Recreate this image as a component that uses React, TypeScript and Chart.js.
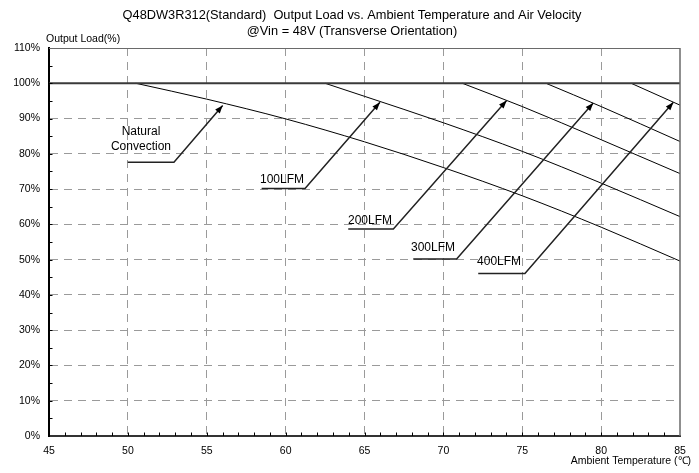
import React, { useEffect, useRef } from 'react';
import { Chart, registerables } from 'chart.js';

Chart.register(...registerables);

const FONT = '"Liberation Sans", Arial, Helvetica, sans-serif';

// Axis ranges / ticks
const xRange = [45, 85];
const yRange = [0, 110];
const xStep = 5;
const yStep = 10;

const titleLines = [
  'Q48DW3R312(Standard)  Output Load vs. Ambient Temperature and Air Velocity',
  '@Vin = 48V (Transverse Orientation)',
];
const xAxisTitle = 'Ambient Temperature (\u2103)';
const yAxisTitle = 'Output Load(%)';

// Derating curves (Ambient temperature °C -> output load %)
const limitT = [45, 85];
const limitLoad = [100, 100];
const naturalT = [50.5, 55, 60, 65, 70, 75, 80, 85];
const naturalLoad = [100, 95.5, 89.9, 83.4, 76.1, 68.1, 59.2, 49.6];
const lfm100T = [62.5, 65, 70, 75, 80, 85];
const lfm100Load = [100, 96.3, 88.8, 80.7, 71.7, 62.2];
const lfm200T = [71.2, 75, 80, 85];
const lfm200Load = [100, 93.4, 84.0, 74.4];
const lfm300T = [76.5, 80, 85];
const lfm300Load = [100, 93.4, 83.5];
const lfm400T = [81.9, 85];
const lfm400Load = [100, 93.8];

// Annotation callouts (data units)
const calloutText = [['Natural', 'Convection'], ['100LFM'], ['200LFM'], ['300LFM'], ['400LFM']];
const calloutTextX = [50.83, 59.77, 65.35, 69.34, 73.53];
const calloutTextY = [84.2, 72.7, 61.1, 53.5, 49.4];
const underlineStartX = [49.99, 58.48, 63.97, 68.09, 72.21];
const underlineEndX = [52.92, 61.23, 66.83, 70.84, 75.17];
const underlineY = [77.6, 70.2, 58.7, 50.2, 46.1];
const arrowTipX = [56.01, 65.98, 74.01, 79.5, 84.58];
const arrowTipY = [93.7, 94.6, 95.1, 94.4, 94.6];

const toPoints = (xs: number[], ys: number[]) => xs.map((v, i) => ({ x: v, y: ys[i] }));

const decorPlugin = {
  id: 'decor',
  afterDraw(chart: any) {
    const { ctx, chartArea: a } = chart;
    const xs = chart.scales.x;
    const ys = chart.scales.y;
    ctx.save();

    // title
    ctx.fillStyle = '#000';
    ctx.font = `12.8px ${FONT}`;
    ctx.textAlign = 'center';
    ctx.textBaseline = 'middle';
    titleLines.forEach((ln, i) => ctx.fillText(ln, 352, 15.5 + i * 15.5));

    // top and right frame
    ctx.strokeStyle = '#6a6a6a';
    ctx.lineWidth = 1;
    ctx.beginPath();
    ctx.moveTo(a.left, a.top + 0.5);
    ctx.lineTo(a.right, a.top + 0.5);
    ctx.stroke();
    ctx.lineWidth = 1.5;
    ctx.beginPath();
    ctx.moveTo(a.right, a.top);
    ctx.lineTo(a.right, a.bottom);
    ctx.stroke();

    // minor ticks (inside)
    ctx.strokeStyle = '#000';
    ctx.lineWidth = 1;
    ctx.beginPath();
    for (let t = xRange[0] + 1; t < xRange[1]; t += 1) {
      const px = Math.round(xs.getPixelForValue(t)) + 0.5;
      ctx.moveTo(px, a.bottom);
      ctx.lineTo(px, a.bottom - 3.5);
    }
    for (let v = yRange[0] + 5; v < yRange[1]; v += 5) {
      const py = Math.round(ys.getPixelForValue(v)) + 0.5;
      ctx.moveTo(a.left, py);
      ctx.lineTo(a.left + 3.5, py);
    }
    ctx.stroke();

    // callouts
    ctx.fillStyle = '#000';
    ctx.font = `12px ${FONT}`;
    ctx.textAlign = 'center';
    ctx.textBaseline = 'middle';
    for (let i = 0; i < calloutText.length; i++) {
      const lines = calloutText[i];
      const cx = xs.getPixelForValue(calloutTextX[i]);
      const cy = ys.getPixelForValue(calloutTextY[i]);
      lines.forEach((ln, j) => {
        ctx.fillText(ln, cx, cy + (j - (lines.length - 1) / 2) * 14.6);
      });
      const ux1 = xs.getPixelForValue(underlineStartX[i]);
      const ux2 = xs.getPixelForValue(underlineEndX[i]);
      const uy = ys.getPixelForValue(underlineY[i]);
      const tx = xs.getPixelForValue(arrowTipX[i]);
      const ty = ys.getPixelForValue(arrowTipY[i]);
      ctx.strokeStyle = '#222';
      ctx.lineWidth = 1.5;
      ctx.beginPath();
      ctx.moveTo(ux1, uy);
      ctx.lineTo(ux2, uy);
      ctx.lineTo(tx, ty);
      ctx.stroke();
      // arrow head
      const ang = Math.atan2(ty - uy, tx - ux2);
      const L = 8;
      const W = 3;
      const bx = tx - L * Math.cos(ang);
      const by = ty - L * Math.sin(ang);
      ctx.beginPath();
      ctx.moveTo(tx, ty);
      ctx.lineTo(bx + W * Math.sin(ang), by - W * Math.cos(ang));
      ctx.lineTo(bx - W * Math.sin(ang), by + W * Math.cos(ang));
      ctx.closePath();
      ctx.fillStyle = '#000';
      ctx.fill();
    }

    // axis titles
    ctx.font = `10.5px ${FONT}`;
    ctx.fillStyle = '#000';
    ctx.textBaseline = 'middle';
    ctx.textAlign = 'left';
    ctx.fillText(yAxisTitle, a.left - 3, a.top - 9);
    ctx.textAlign = 'right';
    ctx.fillText(xAxisTitle, a.right + 11, a.bottom + 25);

    ctx.restore();
  },
};

export default function App() {
  const ref = useRef<HTMLCanvasElement | null>(null);

  useEffect(() => {
    if (!ref.current) return;
    const curve = (label: string, xs: number[], ys: number[], color = '#000', width = 1) => ({
      label,
      data: toPoints(xs, ys),
      showLine: true,
      borderColor: color,
      backgroundColor: color,
      borderWidth: width,
      pointRadius: 0,
      cubicInterpolationMode: 'monotone' as const,
    });
    const chart = new Chart(ref.current, {
      type: 'scatter',
      data: {
        datasets: [
          curve('Limit', limitT, limitLoad, '#3a3a3a', 1.8),
          curve('Natural Convection', naturalT, naturalLoad),
          curve('100LFM', lfm100T, lfm100Load),
          curve('200LFM', lfm200T, lfm200Load),
          curve('300LFM', lfm300T, lfm300Load),
          curve('400LFM', lfm400T, lfm400Load),
        ],
      },
      options: {
        responsive: false,
        animation: false,
        events: [],
        layout: { padding: { left: 0, right: 19, top: 48, bottom: 0 } },
        plugins: {
          legend: { display: false },
          tooltip: { enabled: false },
          title: { display: false },
        },
        scales: {
          x: {
            type: 'linear',
            min: xRange[0],
            max: xRange[1],
            afterFit: (s: any) => {
              s.height = 37;
            },
            ticks: {
              stepSize: xStep,
              padding: 9,
              color: '#000',
              font: { family: FONT, size: 10.5 },
              maxRotation: 0,
              autoSkip: false,
            },
            grid: {
              drawTicks: false,
              lineWidth: 1,
              color: (c: any) =>
                c.tick && (c.tick.value === xRange[0] || c.tick.value === xRange[1])
                  ? 'rgba(0,0,0,0)'
                  : '#9a9a9a',
            },
            border: { color: '#333', width: 2, dash: [8, 6] },
          },
          y: {
            type: 'linear',
            min: yRange[0],
            max: yRange[1],
            afterFit: (s: any) => {
              s.width = 49;
            },
            ticks: {
              stepSize: yStep,
              padding: 9,
              color: '#000',
              font: { family: FONT, size: 10.5 },
              callback: (v: any) => `${v}%`,
            },
            grid: {
              drawTicks: false,
              lineWidth: 1,
              color: (c: any) =>
                c.tick && (c.tick.value === yRange[0] || c.tick.value === yRange[1])
                  ? 'rgba(0,0,0,0)'
                  : '#9a9a9a',
            },
            border: { color: '#000', width: 2, dash: [8, 6] },
          },
        },
      },
      plugins: [decorPlugin],
    });
    return () => chart.destroy();
  }, []);

  return (
    <div style={{ position: 'fixed', left: 0, top: 0, width: 699, height: 473, background: '#fff' }}>
      <canvas ref={ref} width={699} height={473} style={{ width: 699, height: 473, display: 'block' }} />
    </div>
  );
}
